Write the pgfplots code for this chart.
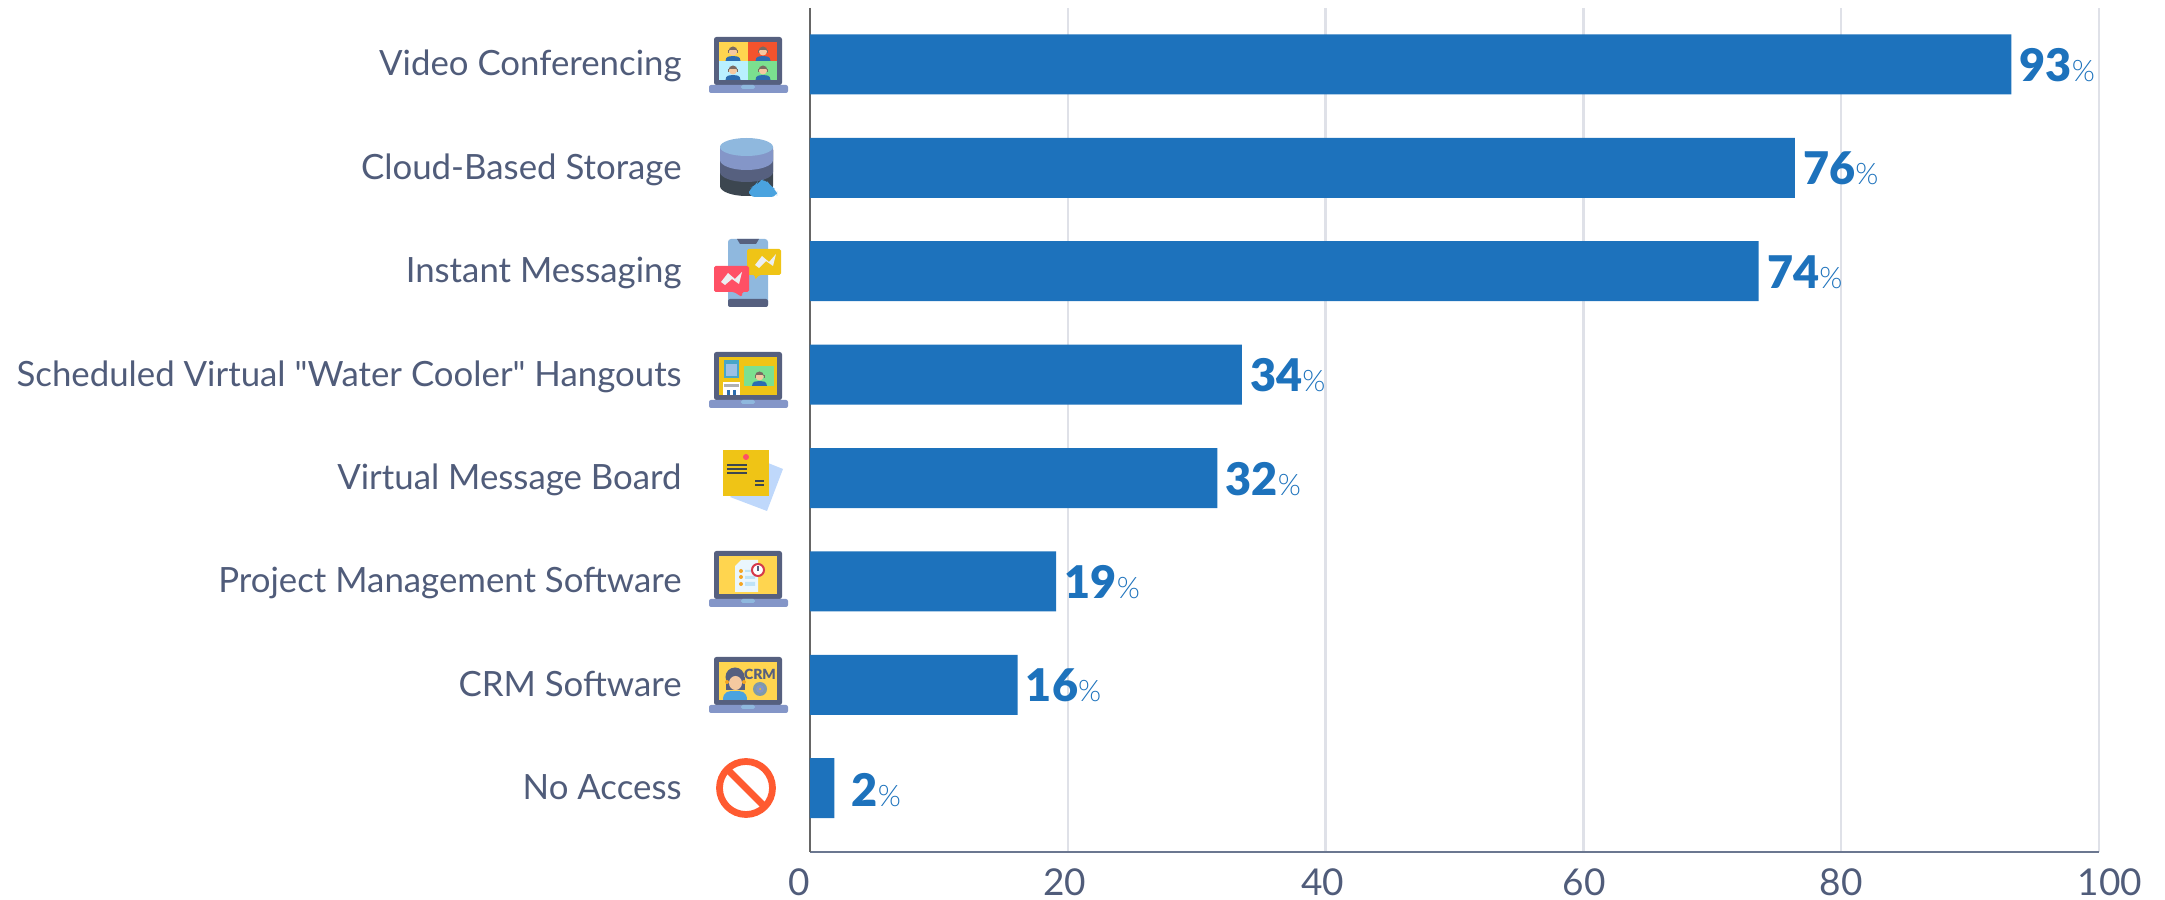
\documentclass[border=0pt]{standalone}
\usepackage{pgfplots}
\usepackage{pgfplotstable}
\usepackage{fontspec}
\setmainfont{Lato}[Ligatures=TeXOff]
\newfontfamily\latolight{Lato Light}
\newfontfamily\latobold{Lato Black}
\pgfplotsset{compat=1.18}
\definecolor{barblue}{HTML}{1D72BC}
\definecolor{labelc}{HTML}{505C7A}
\definecolor{gridc}{HTML}{DFE1E8}
\definecolor{frame}{HTML}{56607F}
\definecolor{lapbase}{HTML}{8496C8}
\definecolor{sky}{HTML}{8FB8DE}
\definecolor{yel}{HTML}{FFD54F}
\definecolor{gold}{HTML}{EFC416}
\definecolor{skin}{HTML}{F5C9A0}
\definecolor{shirt}{HTML}{2B6CB0}
\definecolor{hairc}{HTML}{7A6A62}
\definecolor{darkline}{HTML}{3C4650}
\definecolor{axisxc}{HTML}{6B7790}
\definecolor{axisyc}{HTML}{666666}
\definecolor{redp}{HTML}{F4532D}
\definecolor{icep}{HTML}{B9F0FF}
\definecolor{greenp}{HTML}{7BE08F}
\definecolor{cloudc}{HTML}{4AA3DF}
\definecolor{redb}{HTML}{FF5065}
\definecolor{zigc}{HTML}{ECEFF1}
\definecolor{coolc}{HTML}{48A6C8}
\definecolor{coolb}{HTML}{9CC0E6}
\definecolor{coold}{HTML}{B0B0B0}
\definecolor{sheetc}{HTML}{BFD8FB}
\definecolor{docc}{HTML}{EAF6FD}
\definecolor{docl}{HTML}{BFE3F7}
\definecolor{orangec}{HTML}{F5A623}
\definecolor{clockc}{HTML}{D63A4A}
\definecolor{gearc}{HTML}{7F9AA8}
\definecolor{banc}{HTML}{FF5A30}
\pgfplotstableread{
y val lab
0 93.2 93
1 76.4 76
2 73.6 74
3 33.5 34
4 31.6 32
5 19.1 19
6 16.1 16
7 1.9 2
}\usagetable
\newcommand{\vlab}[1]{\ifnum#1=2 \hspace*{4.5pt}\fi\raisebox{\ifnum#1=2 -0.5pt\else 0pt\fi}[0pt][0pt]{{\fontsize{22.5}{24}\selectfont\latobold #1}{\fontsize{14.8}{16}\selectfont\latolight\%}}}
% laptop with given top edge (reference pixels) and screen colour
\newcommand{\laptop}[2]{%
  \fill[rounded corners=1.2pt,frame] (714,#1) rectangle (782,#1+48);
  \fill[#2] (719,#1+5) rectangle (777,#1+43);
  \fill[rounded corners=1pt,lapbase] (709,#1+48) rectangle (788,#1+56);
  \fill[sky,rounded corners=0.8pt] (741,#1+48) rectangle (755,#1+52);
}
% little person: centre x, bottom y
\newcommand{\person}[3]{%
  \fill[#3] (#1-7.5,#2) .. controls (#1-7.5,#2-5) and (#1-3,#2-5) .. (#1,#2-5) .. controls (#1+3,#2-5) and (#1+7.5,#2-5) .. (#1+7.5,#2) -- cycle;
  \fill[skin] (#1,#2-9.5) circle[radius=4];
  \fill[hairc] (#1-4.5,#2-10) arc[start angle=180,end angle=360,radius=4.5] -- (#1+3,#2-11) -- (#1-3,#2-11) -- cycle;
  \draw[hairc,line width=0.5pt] (#1-4.5,#2-11) -- (#1-4.5,#2-8);
  \draw[hairc,line width=0.5pt] (#1+4.5,#2-11) -- (#1+4.5,#2-8);
}
\begin{document}
\begin{tikzpicture}
\useasboundingbox (0,0) rectangle (1082.5pt,450pt);
\begin{axis}[
  at={(405pt,24pt)}, anchor=south west,
  scale only axis, width=644.5pt, height=422pt,
  xmin=0, xmax=100, ymin=-0.546, ymax=7.617,
  y dir=reverse,
  axis x line*=bottom, axis y line*=left,
  x axis line style={-,draw=axisxc,line width=1.4pt},
  y axis line style={-,draw=axisyc,line width=1pt},
  xmajorgrids, major grid style={draw=gridc,line width=1.2pt},
  major tick length=0pt,
  xtick={0,20,40,60,80,100},
  xticklabels={\hspace*{-11pt}0,\hspace*{-3pt}20,\hspace*{-3pt}40,\hspace*{1pt}60,80,\hspace*{11pt}100},
  ytick={0,...,7},
  yticklabels={Video Conferencing,Cloud-Based Storage,Instant Messaging,Scheduled Virtual "Water Cooler" Hangouts,Virtual Message Board,Project Management Software,CRM Software,No Access},
  xticklabel style={font=\fontsize{18.5}{20}\selectfont,text=labelc,yshift=-5pt},
  yticklabel style={font=\fontsize{17.4}{19}\selectfont,text=labelc,xshift=-64pt,inner sep=0pt,text height=12.4pt,text depth=0pt,yshift=0.5pt},
  clip=false,
  xbar, bar width=30pt,
]
\addplot[fill=barblue,draw=none,
  point meta=explicit symbolic,
  nodes near coords={\vlab{\pgfplotspointmeta}},
  nodes near coords style={anchor=west,inner sep=0pt,xshift=4pt,yshift=-8.5pt,text=barblue},
] table[x=val,y=y,meta=lab] {\usagetable};
\end{axis}
\begin{scope}[x=0.5pt,y=-0.5pt,yshift=450pt]
% 1 video conferencing
\laptop{37}{yel}
\fill[redp] (748,42) rectangle (777,61);
\fill[icep] (719,61) rectangle (748,80);
\fill[greenp] (748,61) rectangle (777,80);
\person{733}{61}{shirt}\person{763}{61}{shirt}\person{733}{80}{shirt}\person{763}{80}{shirt}
% 2 storage
\fill[darkline] (720,150) -- (720,186) arc[start angle=180,end angle=0,x radius=26.5,y radius=10] -- (773,150) -- cycle;
\fill[frame] (720,150) -- (720,172) arc[start angle=180,end angle=0,x radius=26.5,y radius=10] -- (773,150) -- cycle;
\fill[lapbase] (720,147) -- (720,160) arc[start angle=180,end angle=0,x radius=26.5,y radius=10] -- (773,147) -- cycle;
\fill[sky] (746.5,147) ellipse[x radius=26.5,y radius=9];
\fill[cloudc,rounded corners=3pt] (749,197) -- (749,188) -- (756,186) -- (758,181) -- (766,179) -- (770,186) -- (777,190) -- (777,197) -- cycle;
% 3 messaging
\fill[sky,rounded corners=1.5pt] (728,239) rectangle (768,307);
\fill[frame,rounded corners=1pt] (728,299) rectangle (768,307);
\fill[frame] (737,239) -- (759,239) -- (756,244) -- (740,244) -- cycle;
\fill[gold,rounded corners=0.8pt] (747,249) -- (781,249) -- (781,275) -- (759,275) -- (755,280) -- (755,275) -- (747,275) -- cycle;
\fill[redb,rounded corners=0.8pt] (714,266) -- (749,266) -- (749,292) -- (742,292) -- (742,297) -- (734,292) -- (714,292) -- cycle;
\fill[zigc] (755,265) -- (762,256) -- (769,262) -- (776,254) -- (773,266) -- (766,261) -- (759,268) -- cycle;
\fill[zigc] (721,282) -- (728,273) -- (735,279) -- (742,272) -- (739,284) -- (732,279) -- (725,285) -- cycle;
% 4 water cooler
\laptop{352}{gold}
\fill[coolc] (724,360) rectangle (739,378);
\fill[coolb] (726,364) rectangle (737,376);
\fill[white] (723,382) rectangle (740,395);
\fill[coold] (724,384) rectangle (739,387);
\fill[shirt] (727,390) rectangle (730,395);
\fill[shirt] (733,390) rectangle (736,395);
\fill[greenp] (744,366) rectangle (774,386);
\person{759.5}{386}{shirt}
% 5 message board
\fill[sheetc] (768,463) -- (783,469) -- (767,511) -- (730,497) -- cycle;
\fill[gold] (723,450) rectangle (769,496);
\fill[redb] (746,457) circle[radius=3];
\draw[darkline,line width=0.8pt] (727,465) -- (747,465) (727,469) -- (747,469) (727,473) -- (747,473) (755,481) -- (764,481) (755,485) -- (764,485);
% 6 project management
\laptop{551}{yel}
\fill[docc] (741,560) -- (758,560) -- (758,592) -- (735,592) -- (735,566) -- cycle;
\fill[orangec] (741,571) circle[radius=2] (741,577) circle[radius=2] (741,584) circle[radius=2];
\fill[docl] (745,570) rectangle (752,572) (745,576) rectangle (755,579) (745,582) rectangle (755,586);
\fill[white] (758,570) circle[radius=6];
\draw[clockc,line width=1pt] (758,570) circle[radius=6];
\draw[frame,line width=0.7pt] (758,566) -- (758,571);
% 7 CRM
\laptop{657}{yel}
\node[font=\fontsize{7}{8}\selectfont\latobold,text=frame,inner sep=0pt] at (760,674) {CRM};
\fill[gearc] (760,689) circle[radius=7];
\fill[lapbase] (760,689) circle[radius=4];
\fill[gold] (760,689) circle[radius=1];
\fill[frame] (735,677) circle[radius=9.5];
\fill[frame] (725.5,677) rectangle (744.5,690);
\fill[skin] (735.5,683) ellipse[x radius=6.5,y radius=7];
\fill[cloudc] (723,700) .. controls (723,691) and (729,691) .. (735,691) .. controls (741,691) and (747,691) .. (747,700) -- cycle;
\fill[orangec] (727,682) circle[radius=2] (744,682) circle[radius=2];
% 8 no access
\draw[banc,line width=3.4pt] (746,788) circle[radius=26.5];
\draw[banc,line width=3.4pt] (728,770) -- (764,806);
\end{scope}
\end{tikzpicture}
\end{document}
